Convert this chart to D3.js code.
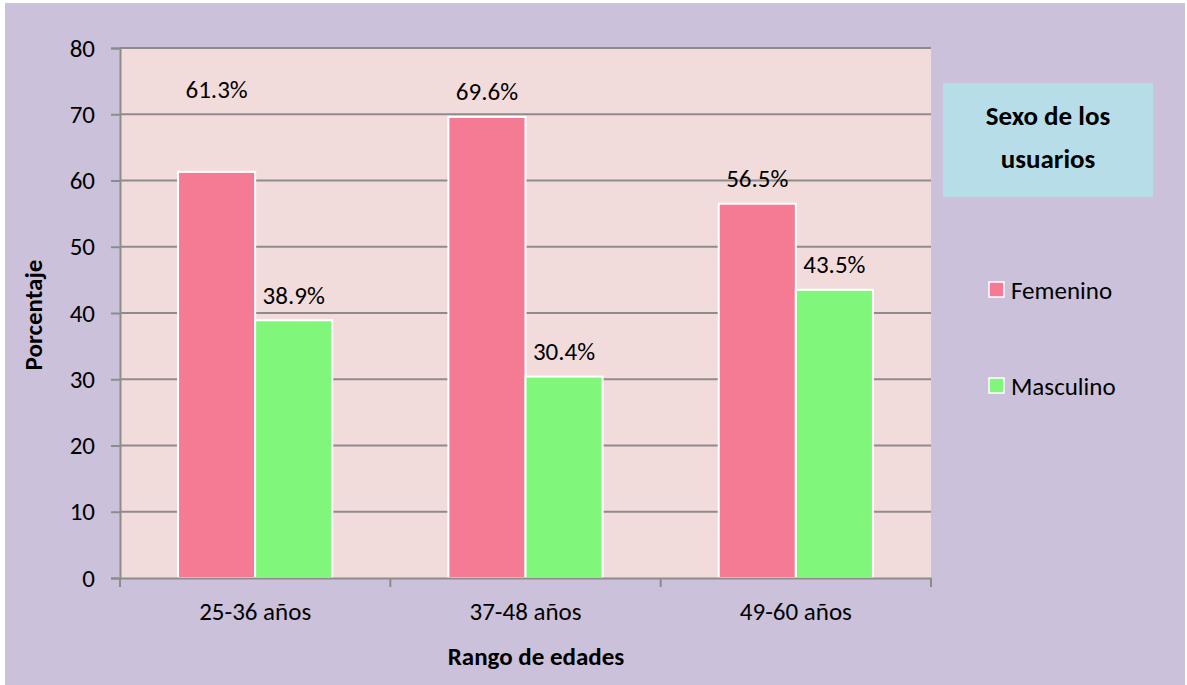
<!DOCTYPE html>
<html>
<head>
<meta charset="utf-8">
<script src="https://cdn.jsdelivr.net/npm/d3@7"></script>
<style>
  html, body { margin: 0; padding: 0; background: #ffffff; }
  svg { display: block; }
  text { font-family: Carlito, Calibri, Lato, "Open Sans", sans-serif; fill: #000; }
</style>
</head>
<body>
<svg id="chart" width="1187" height="685"></svg>
<script>
// Age ranges and share of users by sex (%)
const categories = ["25-36 años", "37-48 años", "49-60 años"];
const seriesNames = ["Femenino", "Masculino"];
const femenino = [61.3, 69.6, 56.5];
const masculino = [38.9, 30.4, 43.5];
const yTicks = [0, 10, 20, 30, 40, 50, 60, 70, 80];

const colors = { Femenino: "#F57B95", Masculino: "#80F77A" };
const FONT = "Carlito, Calibri, Lato, sans-serif";
const FS = 25;

const svg = d3.select("#chart");

// outer chart area
svg.append("rect").attr("x", 5).attr("y", 3).attr("width", 1180).attr("height", 682)
  .attr("fill", "#CBC1DA");

const plot = { left: 120, right: 931, top: 48, bottom: 578 };

const x0 = d3.scaleBand().domain(categories).range([plot.left, plot.right]).paddingInner(0).paddingOuter(0);
const x1 = d3.scaleBand().domain(seriesNames).range([0, x0.bandwidth()]).paddingOuter(0.753).paddingInner(0);
const y = d3.scaleLinear().domain([0, 80]).range([plot.bottom, plot.top]);

// plot background
svg.append("rect")
  .attr("x", plot.left).attr("y", plot.top)
  .attr("width", plot.right - plot.left).attr("height", plot.bottom - plot.top)
  .attr("fill", "#F2DCDB");

// horizontal gridlines
svg.append("g").selectAll("line").data(yTicks.filter(d => d > 0)).join("line")
  .attr("x1", plot.left).attr("x2", plot.right)
  .attr("y1", d => y(d)).attr("y2", d => y(d))
  .attr("stroke", "#8C8C8C").attr("stroke-width", 2);

// bars
const rows = categories.map((c, i) => ({ cat: c, values: [
  { key: "Femenino", value: femenino[i] },
  { key: "Masculino", value: masculino[i] }
]}));

const groups = svg.append("g").selectAll("g").data(rows).join("g")
  .attr("transform", d => `translate(${x0(d.cat)},0)`);

groups.selectAll("rect").data(d => d.values).join("rect")
  .attr("x", d => x1(d.key))
  .attr("y", d => y(d.value))
  .attr("width", x1.bandwidth())
  .attr("height", d => y(0) - y(d.value))
  .attr("fill", d => colors[d.key])
  .attr("stroke", "#ffffff").attr("stroke-width", 2);

// value labels; the first one sits higher, clear of the grid
groups.selectAll("text.val").data((d, i) => d.values.map(v => ({ ...v, gi: i }))).join("text")
  .attr("class", "val")
  .attr("x", d => x1(d.key) + x1.bandwidth() / 2)
  .attr("y", d => y(d.value) - 25 - ((d.gi === 0 && d.key === "Femenino") ? 57 : 0))
  .attr("text-anchor", "middle").attr("dominant-baseline", "central")
  .attr("font-size", FS)
  .text(d => d.value.toFixed(1) + "%");

// y axis
const yAxis = d3.axisLeft(y).tickValues(yTicks).tickSize(9).tickPadding(16).tickFormat(d3.format("d"));
const gy = svg.append("g").attr("transform", `translate(${plot.left},0)`).call(yAxis);
gy.selectAll(".domain").attr("stroke", "#8C8C8C").attr("stroke-width", 2);
gy.selectAll(".tick line").attr("stroke", "#8C8C8C").attr("stroke-width", 2);
gy.selectAll(".tick text").attr("font-size", FS).attr("font-family", FONT).attr("fill", "#000");

// x axis
const xAxis = d3.axisBottom(x0).tickSize(0).tickPadding(24);
const gx = svg.append("g").attr("transform", `translate(0,${plot.bottom})`).call(xAxis);
gx.selectAll(".domain").attr("stroke", "#8C8C8C").attr("stroke-width", 2);
gx.selectAll(".tick text").attr("font-size", FS).attr("font-family", FONT).attr("fill", "#000");
// category separators
const seps = categories.map(c => x0(c)).concat([plot.right]);
gx.append("g").selectAll("line").data(seps).join("line")
  .attr("x1", d => d).attr("x2", d => d).attr("y1", 0).attr("y2", 9)
  .attr("stroke", "#8C8C8C").attr("stroke-width", 2);

// axis titles
svg.append("text")
  .attr("transform", `translate(33,${(plot.top + plot.bottom) / 2 + 2}) rotate(-90)`)
  .attr("text-anchor", "middle").attr("dominant-baseline", "central")
  .attr("font-size", FS).attr("font-weight", "bold")
  .text("Porcentaje");

svg.append("text")
  .attr("x", 536).attr("y", 656)
  .attr("text-anchor", "middle").attr("dominant-baseline", "central")
  .attr("font-size", FS).attr("font-weight", "bold")
  .text("Rango de edades");

// legend
const lg = svg.append("g");
lg.append("rect").attr("x", 943).attr("y", 83).attr("width", 210).attr("height", 114)
  .attr("fill", "#B7DDE8");
["Sexo de los", "usuarios"].forEach((t, i) => {
  lg.append("text").attr("x", 1048).attr("y", 115 + i * 43)
    .attr("text-anchor", "middle").attr("dominant-baseline", "central")
    .attr("font-size", 27).attr("font-weight", "bold").text(t);
});
const legendY = [290, 386];
seriesNames.forEach((name, i) => {
  lg.append("rect").attr("x", 989).attr("y", legendY[i] - 8).attr("width", 15).attr("height", 15)
    .attr("fill", colors[name]).attr("stroke", "#ffffff").attr("stroke-width", 1.5);
  lg.append("text").attr("x", 1011).attr("y", legendY[i])
    .attr("dominant-baseline", "central").attr("font-size", FS).text(name);
});
</script>
</body>
</html>
